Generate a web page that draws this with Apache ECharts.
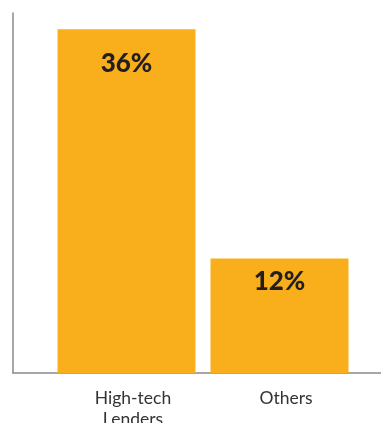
<!DOCTYPE html>
<html>
<head>
<meta charset="utf-8">
<script src="https://cdn.jsdelivr.net/npm/echarts@6/dist/echarts.min.js"></script>
<style>
  html, body {margin: 0; padding: 0; background: #fff;}
  #chart {width: 381px; height: 423px;}
</style>
</head>
<body>
<div id="chart"></div>
<script>
const categories = ['High-tech\nLenders', 'Others']
const shares = [36, 12]
const valueLabels = ['36%', '12%']

const barColor = '#F9AF1B'
const axisColor = '#8a8a8a'
const textColor = '#231f20'
// label gap from bar top differs a bit between the two bars in the original
const labelGap = [21, 10]

const chart = echarts.init(document.getElementById('chart'))

chart.setOption({
  backgroundColor: '#fff',
  animation: false,
  grid: [
    // frame axes
    {left: 13, right: 0, top: 13, bottom: 50, outerBoundsMode: 'none'},
    // bars
    {left: 50, width: 306, top: 13, bottom: 50, outerBoundsMode: 'none'},
  ],
  xAxis: [{
    gridIndex: 0,
    type: 'value',
    min: 0,
    max: 1,
    axisLine: {show: true, onZero: false, lineStyle: {color: axisColor, width: 1.5}},
    axisTick: {show: false},
    axisLabel: {show: false},
    splitLine: {show: false},
  }, {
    gridIndex: 1,
    type: 'category',
    data: categories,
    axisLine: {show: false},
    axisTick: {show: false},
    axisLabel: {
      margin: 15,
      fontFamily: 'Lato',
      fontSize: 17.5,
      lineHeight: 21,
      color: '#333',
      padding: [0, 0, 0, 13],
    },
  }],
  yAxis: [{
    gridIndex: 0,
    type: 'value',
    min: 0,
    max: 1,
    axisLine: {show: true, lineStyle: {color: axisColor, width: 1.5}},
    axisTick: {show: false},
    axisLabel: {show: false},
    splitLine: {show: false},
  }, {
    gridIndex: 1,
    type: 'value',
    min: 0,
    max: 37.7,
    show: false,
  }],
  series: [{
    type: 'bar',
    xAxisIndex: 1,
    yAxisIndex: 1,
    data: shares.map((v, i) => ({value: v, label: {distance: labelGap[i]}})),
    barWidth: 138,
    itemStyle: {color: barColor},
    label: {
      show: true,
      position: 'insideTop',
      formatter: p => valueLabels[p.dataIndex],
      fontFamily: 'Lato',
      fontWeight: 900,
      fontSize: 26,
      color: textColor,
    },
  }],
})
</script>
</body>
</html>
